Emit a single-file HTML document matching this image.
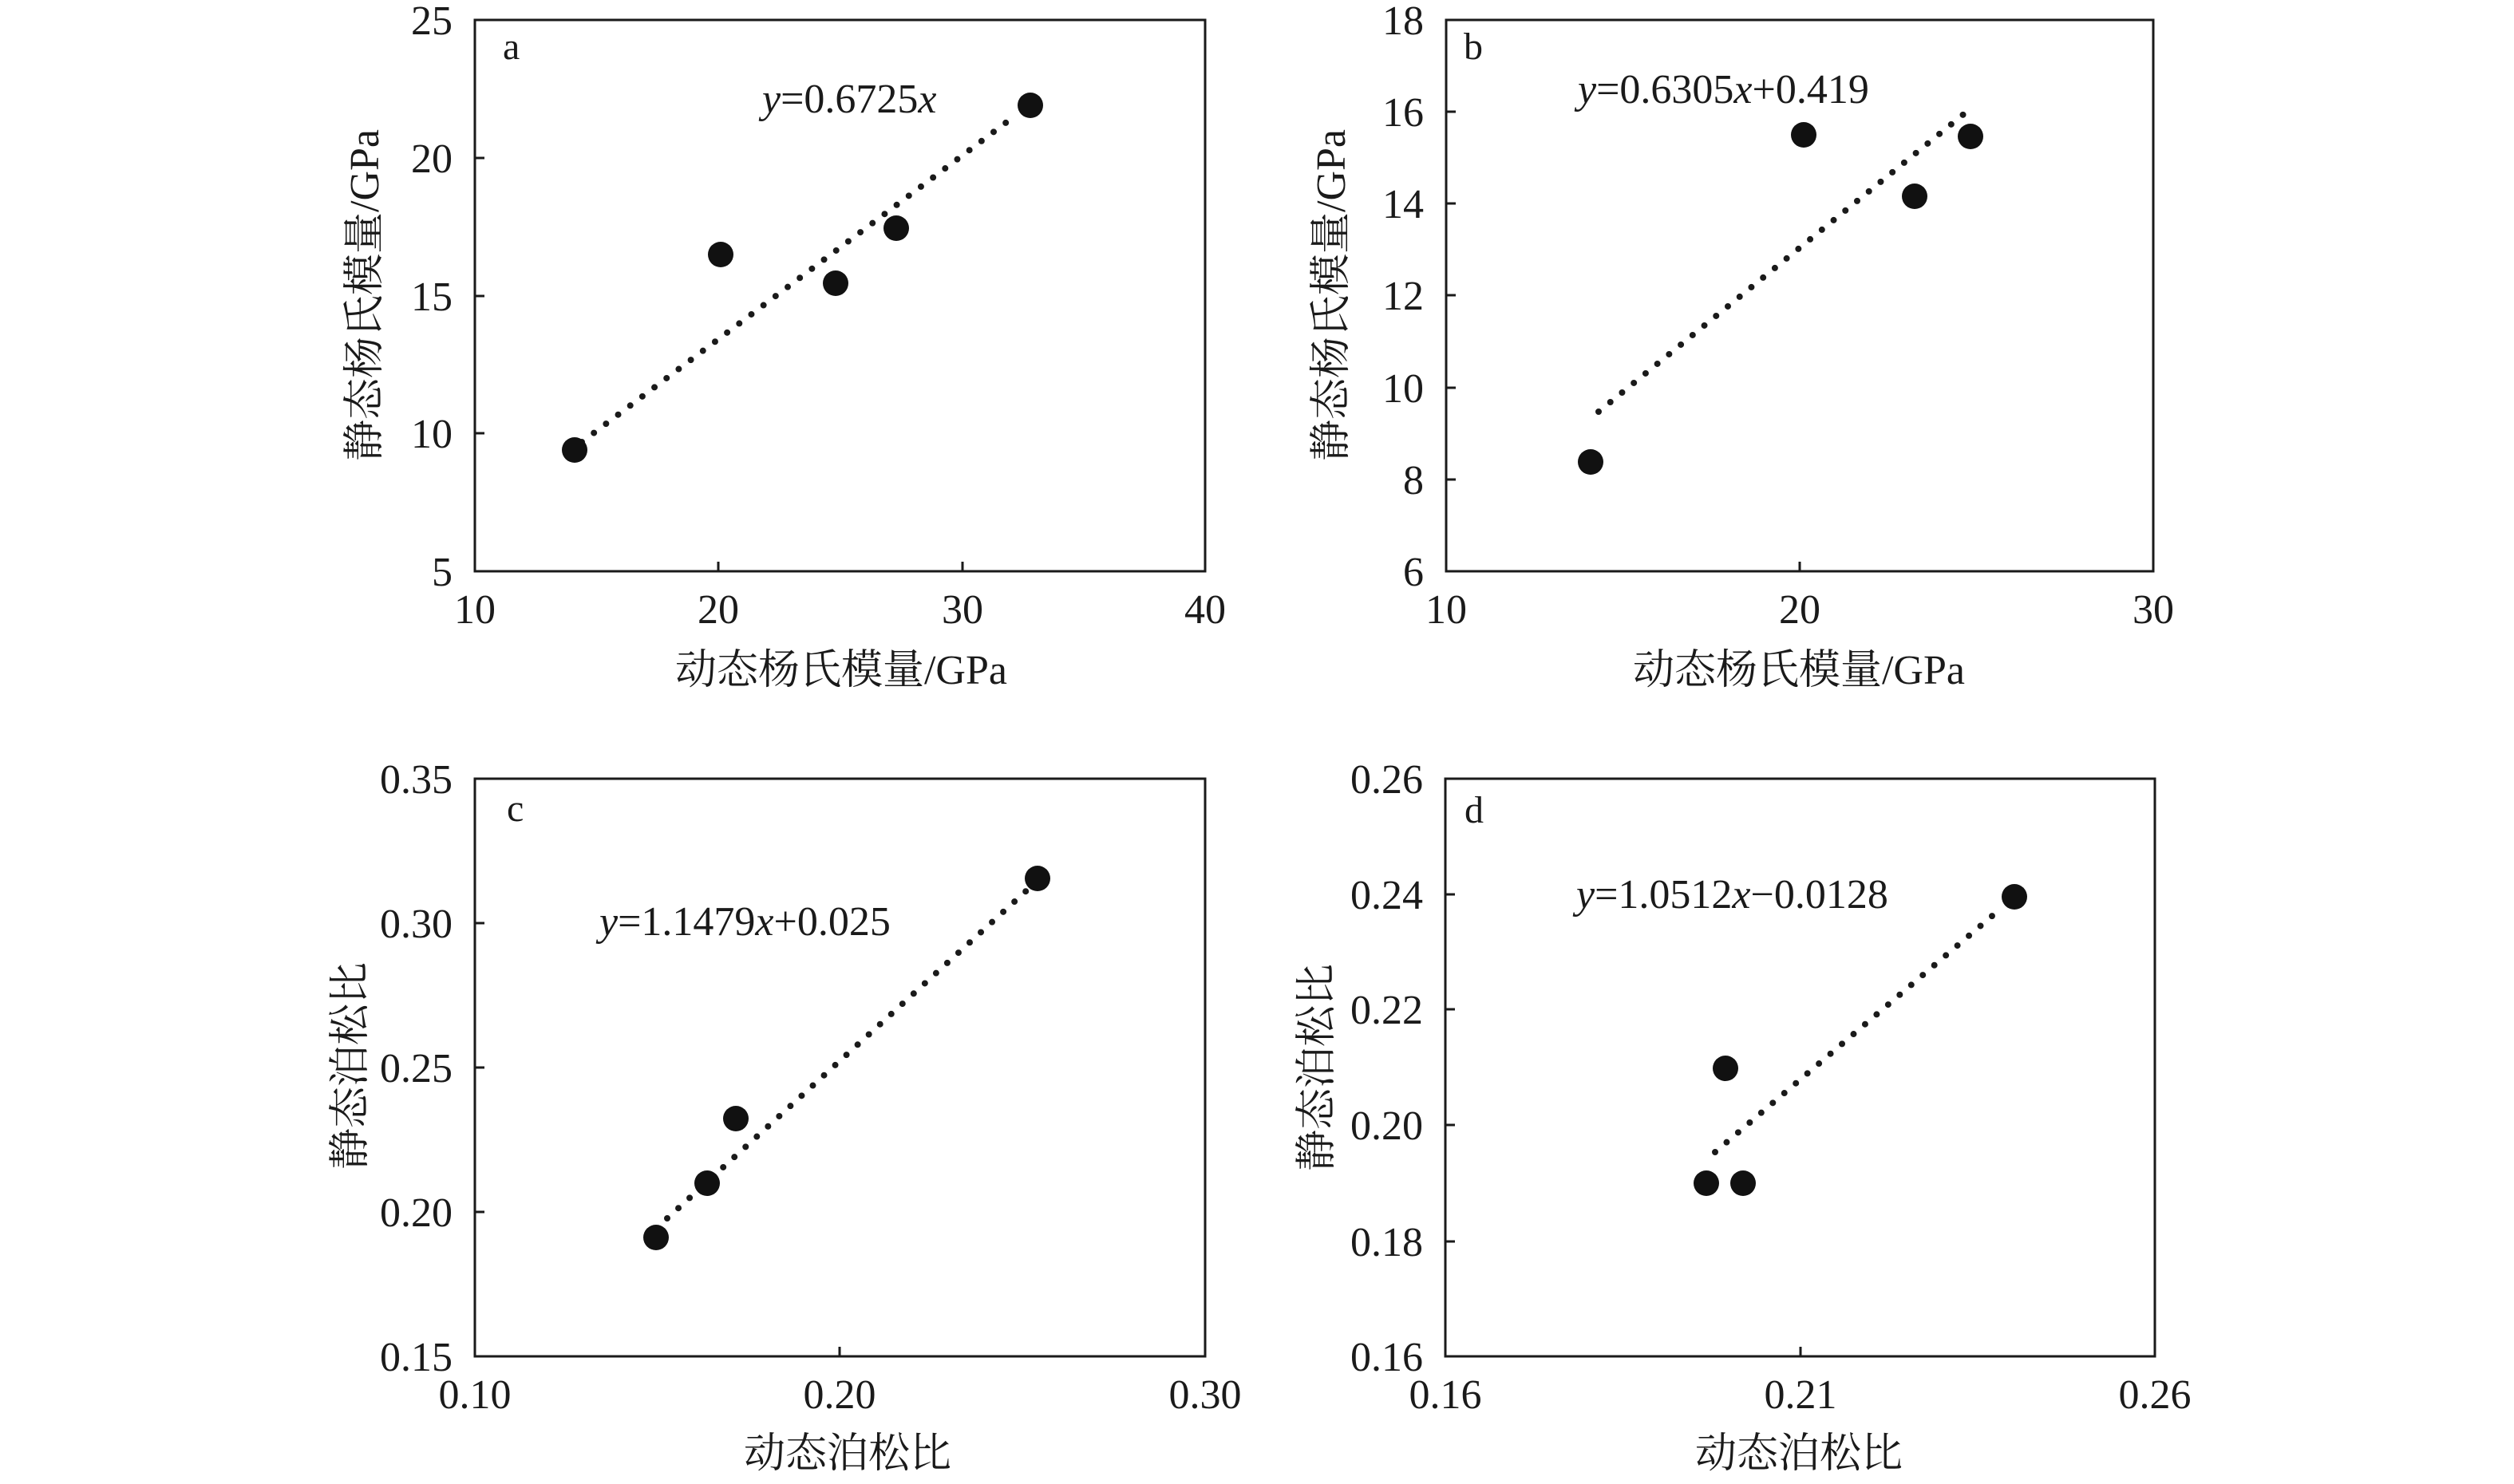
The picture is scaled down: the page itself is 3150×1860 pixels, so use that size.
<!DOCTYPE html>
<html><head><meta charset="utf-8"><style>html,body{margin:0;padding:0;background:#fff}</style></head>
<body>
<svg width="3150" height="1855" viewBox="0 0 3150 1855" xmlns="http://www.w3.org/2000/svg" font-family="'Liberation Serif','Noto Serif CJK SC','Noto Sans CJK SC',serif" fill="#1a1a1a">
<g stroke="#1a1a1a" stroke-width="3" fill="none">
<rect x="595" y="25" width="915" height="691"/>
<rect x="1812" y="25" width="886" height="691"/>
<rect x="595" y="976" width="915" height="724"/>
<rect x="1811" y="976" width="889" height="724"/>
<path d="M595 198h12M595 371h12M595 543h12M900 716v-12M1206 716v-12"/>
<path d="M1812 140h12M1812 255h12M1812 370h12M1812 486h12M1812 601h12M2255 716v-12"/>
<path d="M595 1157h12M595 1338h12M595 1519h12M1052 1700v-12"/>
<path d="M1811 1121h12M1811 1265h12M1811 1410h12M1811 1556h12M2256 1700v-12"/>
</g>
<g stroke="#1a1a1a" stroke-width="8" stroke-linecap="round" stroke-dasharray="0 19" fill="none">
<line x1="729" y1="554" x2="1272" y2="145"/>
<line x1="2003" y1="516" x2="2463" y2="141"/>
<line x1="836" y1="1527" x2="1292" y2="1111"/>
<line x1="2149" y1="1444" x2="2509" y2="1137"/>
</g>
<g fill="#111">
<circle cx="720" cy="564" r="16"/><circle cx="903" cy="319" r="16"/><circle cx="1047" cy="355" r="16"/><circle cx="1123" cy="286" r="16"/><circle cx="1291" cy="132" r="16"/>
<circle cx="1993" cy="579" r="16"/><circle cx="2260" cy="169" r="16"/><circle cx="2399" cy="246" r="16"/><circle cx="2469" cy="171" r="16"/>
<circle cx="822" cy="1551" r="16"/><circle cx="886" cy="1483" r="16"/><circle cx="922" cy="1402" r="16"/><circle cx="1300" cy="1101" r="16"/>
<circle cx="2138" cy="1483" r="16"/><circle cx="2184" cy="1483" r="16"/><circle cx="2162" cy="1339" r="16"/><circle cx="2524" cy="1124" r="16"/>
</g>
<g font-size="52" text-anchor="end">
<text x="567" y="43">25</text><text x="567" y="216">20</text><text x="567" y="389">15</text><text x="567" y="561">10</text><text x="567" y="734">5</text>
<text x="1784" y="43">18</text><text x="1784" y="158">16</text><text x="1784" y="273">14</text><text x="1784" y="388">12</text><text x="1784" y="504">10</text><text x="1784" y="619">8</text><text x="1784" y="734">6</text>
<text x="567" y="994">0.35</text><text x="567" y="1175">0.30</text><text x="567" y="1356">0.25</text><text x="567" y="1537">0.20</text><text x="567" y="1718">0.15</text>
<text x="1783" y="994">0.26</text><text x="1783" y="1139">0.24</text><text x="1783" y="1283">0.22</text><text x="1783" y="1428">0.20</text><text x="1783" y="1574">0.18</text><text x="1783" y="1718">0.16</text>
</g>
<g font-size="52" text-anchor="middle">
<text x="595" y="781">10</text><text x="900" y="781">20</text><text x="1206" y="781">30</text><text x="1510" y="781">40</text>
<text x="1812" y="781">10</text><text x="2255" y="781">20</text><text x="2698" y="781">30</text>
<text x="595" y="1765">0.10</text><text x="1052" y="1765">0.20</text><text x="1510" y="1765">0.30</text>
<text x="1811" y="1765">0.16</text><text x="2256" y="1765">0.21</text><text x="2700" y="1765">0.26</text>
<text x="1054" y="857">动态杨氏模量/GPa</text>
<text x="2254" y="857">动态杨氏模量/GPa</text>
<text x="1062" y="1839">动态泊松比</text>
<text x="2254" y="1839">动态泊松比</text>
<text transform="translate(474,370) rotate(-90)">静态杨氏模量/GPa</text>
<text transform="translate(1685,370) rotate(-90)">静态杨氏模量/GPa</text>
<text transform="translate(456,1336) rotate(-90)">静态泊松比</text>
<text transform="translate(1667,1338) rotate(-90)">静态泊松比</text>
</g>
<g font-size="48">
<text x="630" y="74">a</text>
<text x="1834" y="74">b</text>
<text x="635" y="1029">c</text>
<text x="1835" y="1031">d</text>
</g>
<g font-size="52">
<text x="955" y="141"><tspan font-style="italic">y</tspan>=0.6725<tspan font-style="italic">x</tspan></text>
<text x="1977" y="129"><tspan font-style="italic">y</tspan>=0.6305<tspan font-style="italic">x</tspan>+0.419</text>
<text x="751" y="1172"><tspan font-style="italic">y</tspan>=1.1479<tspan font-style="italic">x</tspan>+0.025</text>
<text x="1975" y="1138"><tspan font-style="italic">y</tspan>=1.0512<tspan font-style="italic">x</tspan>−0.0128</text>
</g>
</svg>
</body></html>
